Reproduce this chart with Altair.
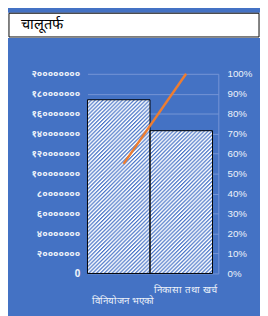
import base64
import altair as alt
import pandas as pd

# ---------------- data ----------------
title_text = "चालूतर्फ"
categories = ["विनियोजन भएको", "निकासा तथा खर्च"]
amounts = [174000000, 143000000]
left_tick_values = [0, 20000000, 40000000, 60000000, 80000000, 100000000,
                    120000000, 140000000, 160000000, 180000000, 200000000]
left_tick_labels = ["0", "२०००००००", "४०००००००", "६०००००००", "८०००००००",
                    "१००००००००", "१२०००००००", "१४०००००००", "१६०००००००",
                    "१८०००००००", "२००००००००"]
pct_ticks = [0, 0.1, 0.2, 0.3, 0.4, 0.5, 0.6, 0.7, 0.8, 0.9, 1.0]

total = sum(amounts)
cum = []
run = 0
for a in amounts:
    run += a
    cum.append(run / total)

df = pd.DataFrame({"cat": categories, "amount": amounts, "cum": cum})

# ---------------- layout ----------------
W, H = 135, 206
PAD_L, PAD_T, PAD_R, PAD_B = 82, 63, 43, 39
P_OUT = 0.0465
YMAX = 200000000
BLUE = "#4472C4"
LIGHT = "#EEF2FA"
GRID = "#7796D6"

step = W / (len(categories) + 2 * P_OUT)


def hatch_url(w, h, c1="#4472C4", c3="#7E9CDA", c2="#FFFFFF"):
    svg = (
        "<svg xmlns='http://www.w3.org/2000/svg' width='%.2f' height='%.2f' "
        "shape-rendering='crispEdges'>"
        "<defs><pattern id='p' width='4' height='4' patternUnits='userSpaceOnUse'>"
        "<rect width='4' height='4' fill='{c2}'/>"
        "<rect x='3' y='0' width='1' height='1' fill='{c1}'/>"
        "<rect x='2' y='1' width='1' height='1' fill='{c1}'/>"
        "<rect x='1' y='2' width='1' height='1' fill='{c1}'/>"
        "<rect x='0' y='3' width='1' height='1' fill='{c1}'/>"
        "<rect x='0' y='0' width='1' height='1' fill='{c3}'/>"
        "<rect x='3' y='1' width='1' height='1' fill='{c3}'/>"
        "<rect x='2' y='2' width='1' height='1' fill='{c3}'/>"
        "<rect x='1' y='3' width='1' height='1' fill='{c3}'/>"
        "</pattern></defs>"
        "<rect width='100%%' height='100%%' fill='url(#p)'/></svg>"
    ) % (w, h)
    svg = svg.replace("{c1}", c1).replace("{c2}", c2).replace("{c3}", c3)
    return "data:image/svg+xml;base64," + base64.b64encode(svg.encode()).decode()


xscale = alt.Scale(domain=categories, paddingInner=0, paddingOuter=P_OUT, align=0)


def yleft():
    return alt.Y("amount:Q",
                 scale=alt.Scale(domain=[0, YMAX], nice=False),
                 axis=alt.Axis(values=left_tick_values, title=None,
                               labelExpr="%s[indexof(%s, datum.value)]" % (
                                   str(left_tick_labels), str(left_tick_values)),
                               labelOverlap=False,
                               domain=False, ticks=False, grid=True,
                               gridColor=GRID, gridWidth=1,
                               labelColor=LIGHT, labelFontSize=10,
                               labelFontWeight="bold", labelPadding=8,
                               labelFont="Noto Sans"))


def xband():
    return alt.X("cat:N", scale=xscale, axis=None, sort=categories)


fill_layers = []
for i, c in enumerate(categories):
    h = amounts[i] / YMAX * H
    img = alt.Chart(df).transform_filter(alt.datum.cat == c).mark_image(
        width=step, height=h, aspect=False, baseline="top", align="center"
    ).encode(
        x=xband(),
        y=yleft(),
        url=alt.value(hatch_url(step, h)),
    )
    fill_layers.append(img)

outline = alt.Chart(df).mark_bar(fill="transparent", stroke="black", strokeWidth=1).encode(
    x=xband(),
    y=yleft(),
)

line = alt.Chart(df).mark_line(color="#ED7D31", strokeWidth=2.5, xOffset=5).encode(
    x=xband(),
    y=alt.Y("cum:Q", scale=alt.Scale(domain=[0, 1], nice=False),
            axis=alt.Axis(orient="right", values=pct_ticks, format=".0%",
                          title=None, grid=False, ticks=False,
                          labelOverlap=False,
                          domain=True, domainColor=GRID, domainWidth=1,
                          labelColor=LIGHT, labelFontSize=10,
                          labelPadding=9, labelFont="Liberation Sans")),
)

label_y = [234, 223]
label_layers = []
for i, c in enumerate(categories):
    t = alt.Chart(df).transform_filter(alt.datum.cat == c).mark_text(
        color=LIGHT, fontSize=10, xOffset=4.5, baseline="middle"
    ).encode(
        x=xband(),
        y=alt.value(label_y[i]),
        text="cat:N",
    )
    label_layers.append(t)

one = pd.DataFrame({"t": [title_text]})
top_white = alt.Chart(one).mark_rect(color="white").encode(
    x=alt.value(-PAD_L), x2=alt.value(W + PAD_R),
    y=alt.value(-PAD_T), y2=alt.value(-37))
top_box = alt.Chart(one).mark_rect(fill="white", stroke="black", strokeWidth=1).encode(
    x=alt.value(-81), x2=alt.value(W + PAD_R - 1),
    y=alt.value(-62.5), y2=alt.value(-38))
top_text = alt.Chart(one).mark_text(align="left", baseline="middle", fontSize=15,
                                    color="black").encode(
    x=alt.value(-69), y=alt.value(-51), text="t:N")

chart = alt.layer(
    top_white, top_box, top_text,
    alt.layer(*fill_layers, outline), line, *label_layers
).resolve_scale(y="independent").properties(
    width=W, height=H,
    autosize=alt.AutoSizeParams(type="none"),
    padding={"left": PAD_L, "top": PAD_T, "right": PAD_R, "bottom": PAD_B},
    background=BLUE,
).configure_view(stroke=None)

chart.save("out.html", embed_options={"renderer": "svg", "actions": False})
